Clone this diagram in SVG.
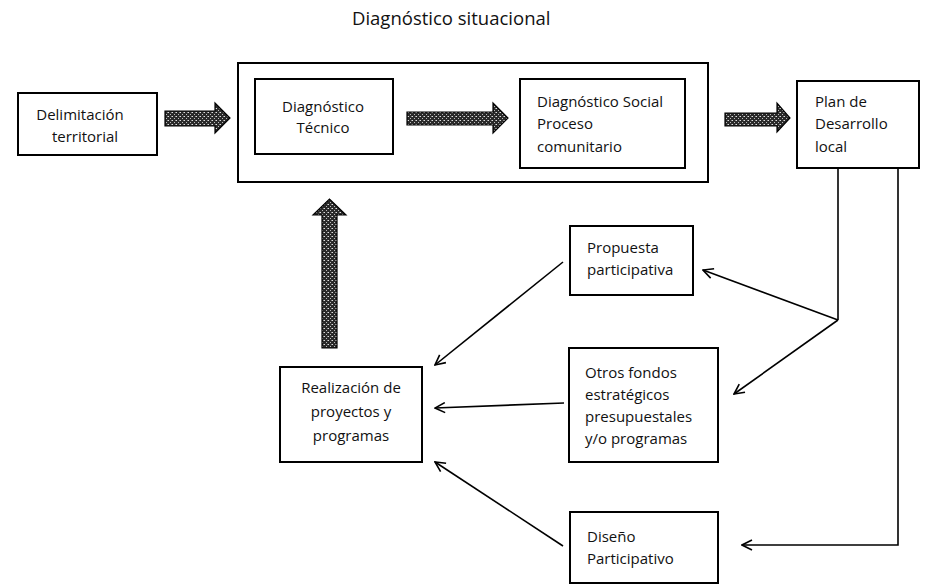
<svg xmlns="http://www.w3.org/2000/svg" width="925" height="584" viewBox="0 0 925 584">
<style>
  .box { fill: #fff; stroke: #000; stroke-width: 2; }
  .t { font-family: "Open Sans", "Noto Sans", "Liberation Sans", sans-serif; font-size: 15px; fill: #111; }
  .title { font-family: "Open Sans", "Noto Sans", "Liberation Sans", sans-serif; font-size: 18.5px; fill: #111; }
  .line { fill: none; stroke: #000; stroke-width: 1.6; }
  .fat { fill: url(#hatch); stroke: #000; stroke-width: 1.2; }
</style>
<defs>
  <pattern id="hatch" width="4" height="4" patternUnits="userSpaceOnUse">
    <rect width="4" height="4" fill="#2a2a2a"/>
    <rect x="0" y="0" width="1" height="1" fill="#ddd"/>
    <rect x="2" y="2" width="1" height="1" fill="#bbb"/>
    <rect x="3" y="0" width="1" height="1" fill="#888"/>
  </pattern>
  <marker id="arr" viewBox="0 0 12 12" refX="11" refY="6" markerWidth="12" markerHeight="12" markerUnits="userSpaceOnUse" orient="auto">
    <path d="M1,1 L11,6 L1,11" fill="none" stroke="#000" stroke-width="1.6"/>
  </marker>
</defs>

<text class="title" x="352" y="25">Diagnóstico situacional</text>

<g id="diag-situacional">
  <rect class="box" x="238" y="63" width="470" height="119"/>
</g>

<g id="delimitacion">
  <rect class="box" x="18" y="93" width="139" height="62"/>
  <text class="t" x="80" y="120" text-anchor="middle">Delimitación</text>
  <text class="t" x="85" y="142" text-anchor="middle">territorial</text>
</g>

<g id="diag-tecnico">
  <rect class="box" x="255" y="79" width="138" height="75"/>
  <text class="t" x="323" y="112" text-anchor="middle">Diagnóstico</text>
  <text class="t" x="323" y="133" text-anchor="middle">Técnico</text>
</g>

<g id="diag-social">
  <rect class="box" x="520" y="79" width="165" height="89"/>
  <text class="t" x="537" y="107">Diagnóstico Social</text>
  <text class="t" x="537" y="129">Proceso</text>
  <text class="t" x="537" y="152">comunitario</text>
</g>

<g id="plan">
  <rect class="box" x="797" y="81" width="122" height="87"/>
  <text class="t" x="815" y="107">Plan de</text>
  <text class="t" x="815" y="129">Desarrollo</text>
  <text class="t" x="815" y="152">local</text>
</g>

<g id="propuesta">
  <rect class="box" x="570" y="226" width="123" height="69"/>
  <text class="t" x="587" y="253">Propuesta</text>
  <text class="t" x="587" y="275">participativa</text>
</g>

<g id="otros">
  <rect class="box" x="569" y="348" width="149" height="114"/>
  <text class="t" x="585" y="378">Otros fondos</text>
  <text class="t" x="585" y="400">estratégicos</text>
  <text class="t" x="585" y="422">presupuestales</text>
  <text class="t" x="585" y="444">y/o programas</text>
</g>

<g id="realizacion">
  <rect class="box" x="280" y="367" width="142" height="95"/>
  <text class="t" x="351" y="393" text-anchor="middle">Realización de</text>
  <text class="t" x="351" y="417" text-anchor="middle">proyectos y</text>
  <text class="t" x="351" y="441" text-anchor="middle">programas</text>
</g>

<g id="diseno">
  <rect class="box" x="570" y="512" width="148" height="71"/>
  <text class="t" x="587" y="542">Diseño</text>
  <text class="t" x="587" y="564">Participativo</text>
</g>

<g id="connectors">
  <path class="fat" d="M165,111 H215 V103 L230,118 L215,133 V126 H165 Z"/>
  <path class="fat" d="M407,112 H493 V103 L508,118 L493,133 V125 H407 Z"/>
  <path class="fat" d="M725,113 H777 V103 L790,118 L777,132 V126 H725 Z"/>
  <path class="fat" d="M322,348 V215 H313 L329.5,199 L346,215 H337 V348 Z"/>

  <path class="line" d="M838,168 V320"/>
  <path class="line" d="M838,320 L703,270" marker-end="url(#arr)"/>
  <path class="line" d="M838,320 L734,394" marker-end="url(#arr)"/>
  <path class="line" d="M898,168 V545 H742" marker-end="url(#arr)"/>
  <path class="line" d="M563,262 L435,365" marker-end="url(#arr)"/>
  <path class="line" d="M564,403 L435,408" marker-end="url(#arr)"/>
  <path class="line" d="M563,546 L435,462" marker-end="url(#arr)"/>
</g>
</svg>
